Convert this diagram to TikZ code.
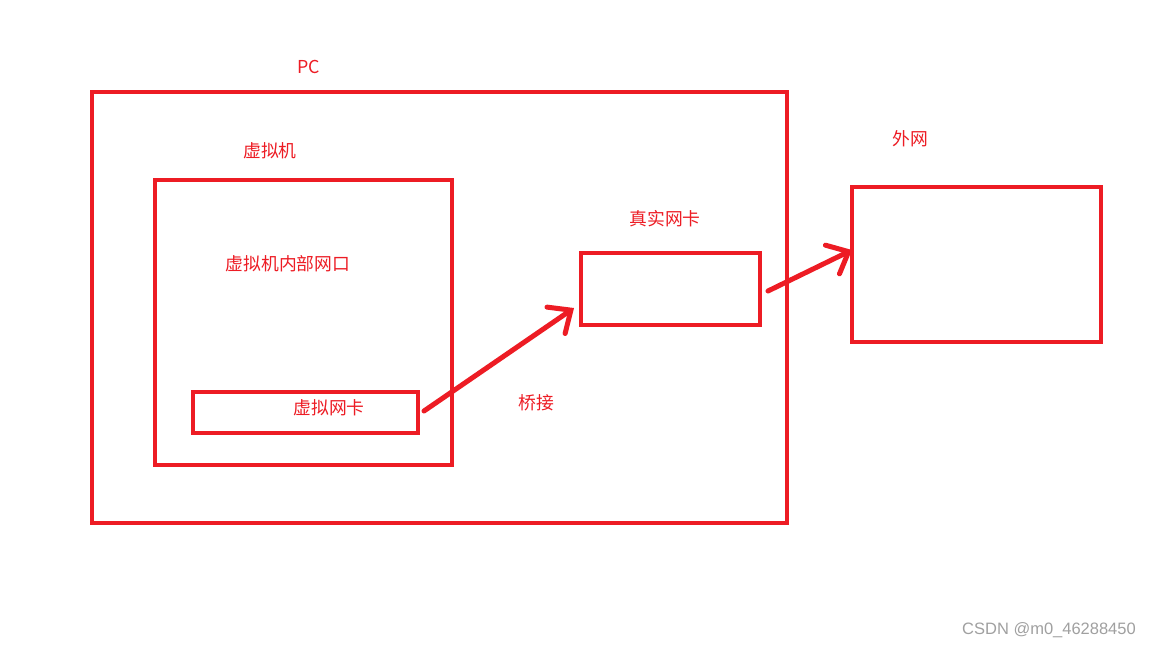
\documentclass[tikz,border=0pt]{standalone}
\usepackage{fontspec}
\newfontfamily\cjk{Noto Sans CJK SC}
\newfontfamily\wm{Liberation Sans}
\usetikzlibrary{arrows.meta}
\definecolor{pred}{HTML}{ED1C24}
\definecolor{wmgray}{HTML}{A0A0A0}
\tikzset{
  redbox/.style={draw=pred, line width=4pt, minimum width=#1, inner sep=0pt},
  lbl/.style={text=pred, font=\cjk\fontsize{17.8}{20}\selectfont, inner sep=0pt},
  conn/.style={draw=pred, line width=5pt, line cap=round,
    -{Straight Barb[length=18pt, width=32pt, line width=5pt, line cap=round]}},
}
\begin{document}
\begin{tikzpicture}[x=1pt, y=-1pt]
  \useasboundingbox[fill=white] (0,0) rectangle (1152,648);
  % boxes
  \node[redbox=695pt, minimum height=431pt] (pc) at (439.5,307.5) {};
  \node[redbox=297pt, minimum height=285pt] (vm) at (303.5,322.5) {};
  \node[redbox=225pt, minimum height=41pt] (vnic) at (305.5,412.5) {};
  \node[redbox=179pt, minimum height=72pt] (rnic) at (670.5,289) {};
  \node[redbox=249pt, minimum height=155pt] (wan) at (976.5,264.5) {};
  % labels
  \node[lbl] (pclbl) at (309,67) {PC};
  \node[lbl] (vmlbl) at (270,151) {虚拟机};
  \node[lbl] (portlbl) at (288,264) {虚拟机内部网口};
  \node[lbl] (vniclbl) at (329,408) {虚拟网卡};
  \node[lbl] (bridgelbl) at (536,403) {桥接};
  \node[lbl] (rniclbl) at (665,219) {真实网卡};
  \node[lbl] (wanlbl) at (910,139) {外网};
  \node[text=wmgray, font=\wm\fontsize{16.5}{18}\selectfont, inner sep=0pt] (mark) at (1049,630) {CSDN @m0\_46288450};
  % connectors
  \coordinate (a1s) at (424,411);
  \coordinate (a1e) at (574,308);
  \coordinate (a2s) at (768,291);
  \coordinate (a2e) at (852,250);
  \draw[conn] (a1s) -- (a1e);
  \draw[conn] (a2s) -- (a2e);
\end{tikzpicture}
\end{document}
